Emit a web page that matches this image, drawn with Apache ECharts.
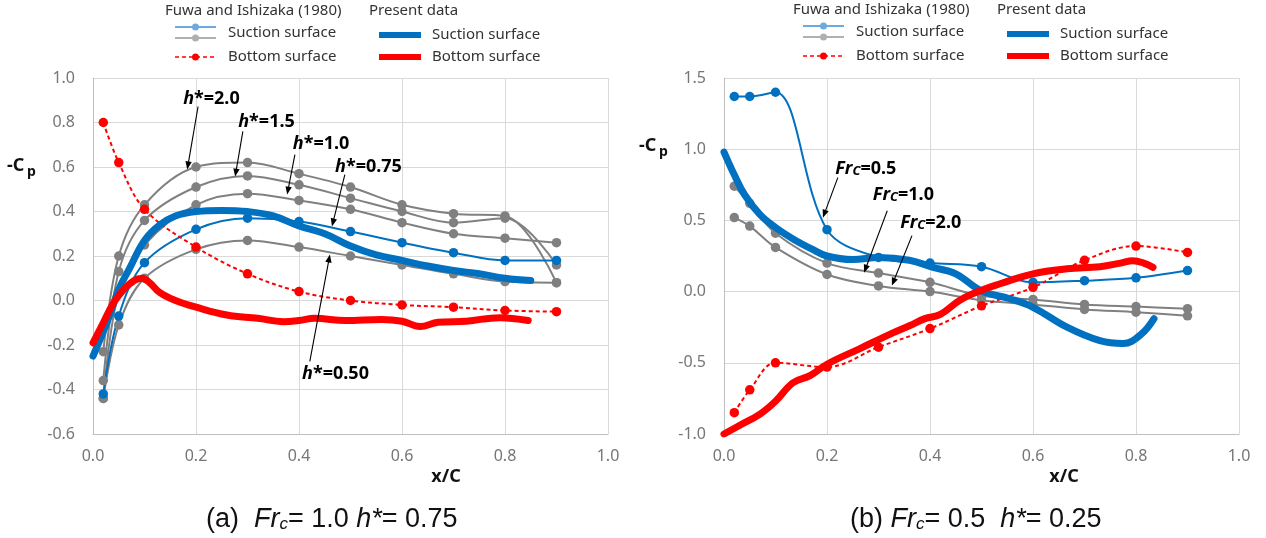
<!DOCTYPE html>
<html>
<head>
<meta charset="utf-8">
<script src="https://cdn.jsdelivr.net/npm/echarts@6/dist/echarts.min.js"></script>
<style>
  html, body { margin: 0; padding: 0; background: #fff; }
  #chart { width: 1266px; height: 538px; }
</style>
</head>
<body>
<div id="chart"></div>
<script>
// Fuwa and Ishizaka (1980) measuring stations
const fuwaX = [0.02, 0.05, 0.1, 0.2, 0.3, 0.4, 0.5, 0.6, 0.7, 0.8, 0.9];

// (a) Fr_c = 1.0, h* = 0.75
const aH20 = [-0.23, 0.20, 0.43, 0.60, 0.62, 0.57, 0.51, 0.43, 0.39, 0.38, 0.08];
const aH15 = [-0.36, 0.13, 0.36, 0.51, 0.56, 0.52, 0.46, 0.40, 0.35, 0.37, 0.16];
const aH10 = [-0.44, 0.04, 0.25, 0.43, 0.48, 0.45, 0.41, 0.35, 0.30, 0.28, 0.26];
const aH050 = [-0.44, -0.11, 0.10, 0.23, 0.27, 0.24, 0.20, 0.16, 0.12, 0.085, 0.08];
const aH075 = [-0.42, -0.07, 0.17, 0.32, 0.37, 0.355, 0.31, 0.26, 0.215, 0.18, 0.18];
const aBottom = [0.80, 0.62, 0.41, 0.24, 0.12, 0.04, 0.00, -0.02, -0.03, -0.045, -0.05];

// present data (a)
const aSucX = [0, 0.02, 0.035, 0.05, 0.07, 0.1, 0.13, 0.16, 0.2, 0.25, 0.3, 0.35, 0.4, 0.45, 0.5, 0.55, 0.6, 0.65, 0.7, 0.75, 0.8, 0.85];
const aSucY = [-0.25, -0.14, -0.05, 0.05, 0.14, 0.27, 0.34, 0.38, 0.40, 0.405, 0.40, 0.38, 0.335, 0.30, 0.245, 0.205, 0.18, 0.155, 0.135, 0.12, 0.10, 0.09];
const aBotX = [0, 0.02, 0.04, 0.06, 0.08, 0.095, 0.11, 0.13, 0.16, 0.2, 0.26, 0.32, 0.37, 0.4, 0.43, 0.49, 0.56, 0.6, 0.635, 0.67, 0.725, 0.79, 0.845];
const aBotY = [-0.19, -0.10, -0.01, 0.05, 0.09, 0.10, 0.08, 0.035, 0.0, -0.03, -0.065, -0.08, -0.095, -0.09, -0.08, -0.09, -0.085, -0.093, -0.117, -0.098, -0.093, -0.077, -0.09];

// (b) Fr_c = 0.5, h* = 0.25
const bFr05 = [1.37, 1.37, 1.40, 0.435, 0.24, 0.20, 0.175, 0.065, 0.077, 0.097, 0.148];
const bFr10 = [0.74, 0.62, 0.41, 0.20, 0.13, 0.065, -0.03, -0.055, -0.09, -0.105, -0.12];
const bFr20 = [0.52, 0.46, 0.31, 0.12, 0.04, 0.0, -0.06, -0.09, -0.125, -0.145, -0.17];
const bBottom = [-0.85, -0.69, -0.50, -0.53, -0.39, -0.26, -0.10, 0.03, 0.22, 0.32, 0.275];

// present data (b)
const bSucX = [0, 0.02, 0.04, 0.07, 0.1, 0.134, 0.17, 0.2, 0.25, 0.3, 0.36, 0.406, 0.45, 0.5, 0.555, 0.6, 0.666, 0.73, 0.775, 0.81, 0.835];
const bSucY = [0.98, 0.82, 0.68, 0.54, 0.45, 0.37, 0.30, 0.25, 0.225, 0.24, 0.22, 0.17, 0.125, 0.005, -0.05, -0.11, -0.25, -0.345, -0.365, -0.30, -0.19];
const bBotX = [0, 0.03, 0.07, 0.1, 0.134, 0.167, 0.2, 0.264, 0.328, 0.36, 0.39, 0.42, 0.458, 0.5, 0.536, 0.6, 0.666, 0.73, 0.77, 0.794, 0.815, 0.833];
const bBotY = [-1.0, -0.94, -0.86, -0.77, -0.64, -0.59, -0.51, -0.40, -0.29, -0.24, -0.19, -0.16, -0.06, 0.01, 0.055, 0.125, 0.16, 0.175, 0.20, 0.217, 0.20, 0.17];

// annotation labels: [grid, text, labelX, labelY, arrowFromX, arrowFromY, arrowToX, arrowToY]
const hLabels = [
  [0, '2.0', 0.175, 0.917, 0.204, 0.872, 0.183, 0.589],
  [0, '1.5', 0.282, 0.813, 0.291, 0.760, 0.276, 0.557],
  [0, '1.0', 0.388, 0.715, 0.392, 0.656, 0.377, 0.476],
  [0, '0.75', 0.470, 0.611, 0.489, 0.566, 0.464, 0.333],
  [0, '0.50', 0.406, -0.319, 0.421, -0.274, 0.460, 0.207]
];
const frLabels = [
  [1, '0.5', 0.216, 0.877, 0.221, 0.800, 0.192, 0.519],
  [1, '1.0', 0.289, 0.694, 0.317, 0.568, 0.272, 0.133],
  [1, '2.0', 0.342, 0.498, 0.365, 0.393, 0.326, 0.042]
];

const BLUE = '#0070c0';
const GRAY = '#808080';
const RED = '#ff0000';
const FONT = 'Noto Sans';

const pairs = (xs, ys) => xs.map((x, i) => [x, ys[i]]);

function fuwa(idx, ys, color, dashed) {
  return {
    type: 'line',
    xAxisIndex: idx,
    yAxisIndex: idx,
    data: pairs(fuwaX, ys),
    smooth: 0.35,
    symbol: 'circle',
    symbolSize: 9.5,
    lineStyle: { color: color, width: 2, type: dashed ? [4, 3] : 'solid' },
    itemStyle: { color: color },
    z: 2
  };
}

function present(idx, xs, ys, color) {
  return {
    type: 'line',
    xAxisIndex: idx,
    yAxisIndex: idx,
    data: pairs(xs, ys),
    smooth: 0.4,
    symbol: 'none',
    lineStyle: { color: color, width: 7, cap: 'round', join: 'round' },
    z: 3
  };
}

function xAx(idx) {
  return {
    gridIndex: idx, type: 'value', min: 0, max: 1, interval: 0.2,
    axisLine: { show: true, onZero: false, lineStyle: { color: '#bfbfbf' } },
    axisTick: { show: false },
    axisLabel: { formatter: v => v.toFixed(1), color: '#767676', fontSize: 16, fontFamily: FONT, margin: 14 },
    splitLine: { lineStyle: { color: '#d9d9d9' } }
  };
}

function yAx(idx, min, max, step) {
  return {
    gridIndex: idx, type: 'value', min: min, max: max, interval: step,
    axisLine: { show: true, onZero: false, lineStyle: { color: '#bfbfbf' } },
    axisTick: { show: false },
    axisLabel: { formatter: v => v.toFixed(1), color: '#767676', fontSize: 16, fontFamily: FONT, margin: 18 },
    splitLine: { lineStyle: { color: '#d9d9d9' } }
  };
}

const chart = echarts.init(document.getElementById('chart'), null, { renderer: 'canvas' });

chart.setOption({
  animation: false,
  backgroundColor: '#fff',
  grid: [
    { left: 93, top: 78, width: 515, height: 356 },
    { left: 724, top: 78, width: 515, height: 356 }
  ],
  xAxis: [xAx(0), xAx(1)],
  yAxis: [yAx(0, -0.6, 1.0, 0.2), yAx(1, -1.0, 1.5, 0.5)],
  series: [
    fuwa(0, aH20, GRAY), fuwa(0, aH15, GRAY), fuwa(0, aH10, GRAY), fuwa(0, aH050, GRAY),
    fuwa(0, aH075, BLUE), fuwa(0, aBottom, RED, true),
    present(0, aSucX, aSucY, BLUE), present(0, aBotX, aBotY, RED),
    fuwa(1, bFr10, GRAY), fuwa(1, bFr20, GRAY), fuwa(1, bFr05, BLUE), fuwa(1, bBottom, RED, true),
    present(1, bSucX, bSucY, BLUE), present(1, bBotX, bBotY, RED)
  ]
});

// ---- overlay: legends, annotations, axis names, captions ----
const g = [];

function txt(x, y, text, extra) {
  g.push({
    type: 'text', silent: true, z: 10,
    style: Object.assign({ x: x, y: y, text: text, fill: '#333', font: '15px "' + FONT + '"', verticalAlign: 'middle' }, extra || {})
  });
}
function seg(x1, y1, x2, y2, color, width, dash) {
  g.push({
    type: 'line', silent: true, z: 10,
    shape: { x1: x1, y1: y1, x2: x2, y2: y2 },
    style: { stroke: color, lineWidth: width, lineDash: dash || null }
  });
}
function dot(x, y, color) {
  g.push({ type: 'circle', silent: true, z: 11, shape: { cx: x, cy: y, r: 3.5 }, style: { fill: color } });
}

function legend(x0, y0) {
  txt(x0 + 72, y0 + 11, 'Fuwa and Ishizaka (1980)');
  txt(x0 + 276, y0 + 11, 'Present data');
  seg(x0 + 82, y0 + 27, x0 + 123, y0 + 27, '#6fa8dc', 1.8);
  dot(x0 + 102.5, y0 + 27, '#6fa8dc');
  seg(x0 + 82, y0 + 38, x0 + 123, y0 + 38, '#b0b0b0', 1.8);
  dot(x0 + 102.5, y0 + 38, '#b0b0b0');
  txt(x0 + 135, y0 + 33, 'Suction surface');
  seg(x0 + 82, y0 + 57, x0 + 123, y0 + 57, RED, 1.6, [4, 3]);
  dot(x0 + 102.5, y0 + 57, RED);
  txt(x0 + 135, y0 + 57, 'Bottom surface');
  seg(x0 + 286, y0 + 35, x0 + 328, y0 + 35, BLUE, 6);
  txt(x0 + 339, y0 + 35, 'Suction surface');
  seg(x0 + 286, y0 + 57, x0 + 328, y0 + 57, RED, 6);
  txt(x0 + 339, y0 + 57, 'Bottom surface');
}
legend(93, 0);
legend(721, -1);

function arrow(p1, p2) {
  const dx = p2[0] - p1[0], dy = p2[1] - p1[1];
  const len = Math.sqrt(dx * dx + dy * dy);
  const ux = dx / len, uy = dy / len;
  const nx = -uy, ny = ux;
  const hl = 8, hw = 3.2;
  seg(p1[0], p1[1], p2[0] - ux * 6, p2[1] - uy * 6, '#000', 1.1);
  g.push({
    type: 'polygon', silent: true, z: 10,
    shape: { points: [
      [p2[0], p2[1]],
      [p2[0] - ux * hl + nx * hw, p2[1] - uy * hl + ny * hw],
      [p2[0] - ux * hl - nx * hw, p2[1] - uy * hl - ny * hw]
    ] },
    style: { fill: '#000' }
  });
}

const annRich = {
  i: { fontFamily: FONT, fontSize: 18, fontStyle: 'italic', fontWeight: 'bold', fill: '#000', lineHeight: 22, verticalAlign: 'bottom' },
  b: { fontFamily: FONT, fontSize: 18, fontWeight: 'bold', fill: '#000', lineHeight: 22, verticalAlign: 'bottom' },
  s: { fontFamily: FONT, fontSize: 13, fontStyle: 'italic', fontWeight: 'bold', fill: '#000', lineHeight: 10, verticalAlign: 'bottom' }
};

function annotate(list, fmt) {
  list.forEach(a => {
    const idx = a[0];
    const lp = chart.convertToPixel({ gridIndex: idx }, [a[2], a[3]]);
    const p1 = chart.convertToPixel({ gridIndex: idx }, [a[4], a[5]]);
    const p2 = chart.convertToPixel({ gridIndex: idx }, [a[6], a[7]]);
    arrow(p1, p2);
    txt(lp[0], lp[1], fmt(a[1]), { rich: annRich, fill: '#000' });
  });
}
annotate(hLabels, v => '{i|h}{b|*=' + v + '}');
annotate(frLabels, v => '{i|Fr}{s|C}{b|=' + v + '}');

// axis names
function cpName(x, y) {
  txt(x, y, '-C', { font: 'bold 18px "' + FONT + '"', fill: '#111' });
  txt(x + 20, y + 6, 'p', { font: 'bold 14px "' + FONT + '"', fill: '#111' });
}
cpName(7, 166);
cpName(639, 146);
txt(446, 477, 'x/C', { font: 'bold 18px "' + FONT + '"', fill: '#111', align: 'center' });
txt(1064, 477, 'x/C', { font: 'bold 18px "' + FONT + '"', fill: '#111', align: 'center' });

// captions
const capRich = {
  n: { fontFamily: 'Liberation Sans', fontSize: 27, fill: '#111', lineHeight: 30, verticalAlign: 'bottom' },
  i: { fontFamily: 'Liberation Sans', fontSize: 27, fontStyle: 'italic', fill: '#111', lineHeight: 30, verticalAlign: 'bottom' },
  s: { fontFamily: 'Liberation Sans', fontSize: 17, fontStyle: 'italic', fill: '#111', lineHeight: 12, verticalAlign: 'bottom' }
};
txt(206, 518, '{n|(a)  }{i|Fr}{s|c}{n|= 1.0 }{i|h*}{n|= 0.75}', { rich: capRich });
txt(850, 518, '{n|(b) }{i|Fr}{s|c}{n|= 0.5  }{i|h*}{n|= 0.25}', { rich: capRich });

chart.setOption({ graphic: g });
</script>
</body>
</html>
